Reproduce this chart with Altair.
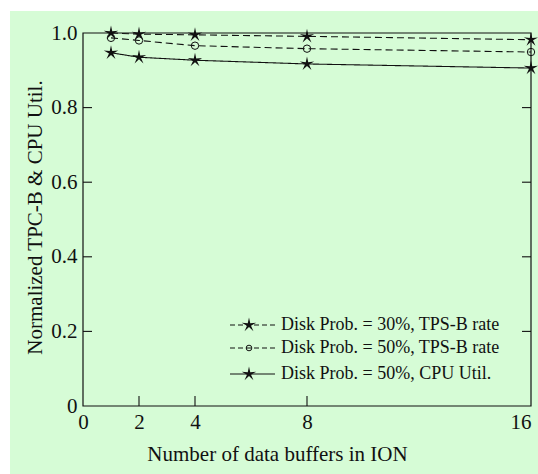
import altair as alt
import pandas as pd

# Measured series: normalized TPC-B rate and CPU utilisation vs. number of data buffers
buffers = [1, 2, 4, 8, 16]
tps_30 = [1.000, 0.997, 0.995, 0.991, 0.982]
tps_50 = [0.987, 0.980, 0.966, 0.958, 0.949]
cpu_50 = [0.947, 0.935, 0.927, 0.917, 0.906]
series_names = [
    "Disk Prob. = 30%, TPS-B rate",
    "Disk Prob. = 50%, TPS-B rate",
    "Disk Prob. = 50%, CPU Util.",
]

x_labels = [0, 2, 4, 8, 16]
x_inner_ticks = [2, 4, 8]
y_labels = [0, 0.2, 0.4, 0.6, 0.8, 1.0]
y_inner_ticks = [0.2, 0.4, 0.6, 0.8]

W, H = 448, 373
FONT = "Liberation Serif"
BG = "#d6fcd6"
INK = "#111111"
STAR_SIZE = 230

# thin five-pointed star symbol in the [-1, 1] box
STAR = ("M0,-1L0.165,-0.227L0.951,-0.309L0.267,0.087L0.588,0.809L0,0.28"
        "L-0.588,0.809L-0.267,0.087L-0.951,-0.309L-0.165,-0.227Z")

rows = []
for name, vals in zip(series_names, [tps_30, tps_50, cpu_50]):
    for b, v in zip(buffers, vals):
        rows.append({"series": name, "buffers": b, "value": v})
df = pd.DataFrame(rows)

x_scale = alt.Scale(domain=[0, 16], nice=False, zero=False)
y_scale = alt.Scale(domain=[0, 1], nice=False)

x_axis = alt.Axis(
    values=x_labels, title="Number of data buffers in ION", ticks=False,
    domain=False, grid=False, labelFont=FONT, labelFontSize=21,
    labelColor=INK, labelPadding=5, labelFlush=False,
    labelAlign=alt.expr("datum.value == 16 ? 'right' : 'center'"),
    titleFont=FONT, titleFontSize=21, titleFontWeight="normal",
    titleColor=INK, titleX=194, titleY=54, titleAlign="center",
    titleBaseline="alphabetic", zindex=1,
)
y_axis = alt.Axis(
    values=y_labels,
    labelExpr="datum.value == 0 ? '0' : format(datum.value, '.1f')",
    title="Normalized TPC-B & CPU Util.", ticks=False, domain=False,
    grid=False, labelFont=FONT, labelFontSize=21, labelColor=INK,
    labelPadding=6, labelFlush=False, titleFont=FONT, titleFontSize=21,
    titleFontWeight="normal", titleColor=INK, titleX=-48, titleY=184,
    titleAngle=270, titleAlign="center", titleBaseline="middle", zindex=1,
)

one = pd.DataFrame({"k": [0]})

# green page background
bg = alt.Chart(one).mark_rect(color=BG).encode(
    x=alt.value(-73), x2=alt.value(W + 7),
    y=alt.value(-22), y2=alt.value(H + 68),
)

base = alt.Chart(df)
lines = base.mark_line(color=INK, strokeWidth=1.1).encode(
    x=alt.X("buffers:Q", scale=x_scale, axis=x_axis),
    y=alt.Y("value:Q", scale=y_scale, axis=y_axis),
    detail="series:N",
    strokeDash=alt.StrokeDash(
        "series:N",
        scale=alt.Scale(domain=series_names, range=[[7, 4], [7, 4], [1, 0]]),
        legend=None,
    ),
)
stars = base.transform_filter(
    alt.datum.series != series_names[1]
).mark_point(shape=STAR, filled=True, size=STAR_SIZE, color=INK,
             opacity=1).encode(
    x=alt.X("buffers:Q", scale=x_scale, axis=x_axis),
    y=alt.Y("value:Q", scale=y_scale, axis=y_axis),
)
circles = base.transform_filter(
    alt.datum.series == series_names[1]
).mark_point(shape="circle", filled=False, size=55, color=INK,
             strokeWidth=1, opacity=1).encode(
    x=alt.X("buffers:Q", scale=x_scale, axis=x_axis),
    y=alt.Y("value:Q", scale=y_scale, axis=y_axis),
)

# inward tick marks on bottom, left and right edges
xt = alt.Chart(pd.DataFrame({"t": x_inner_ticks})).mark_rule(
    color=INK, strokeWidth=1.1
).encode(
    x=alt.X("t:Q", scale=x_scale, axis=x_axis),
    y=alt.value(H), y2=alt.value(H - 10),
)
ydf = pd.DataFrame({"t": y_inner_ticks})
ylt = alt.Chart(ydf).mark_rule(color=INK, strokeWidth=1.1).encode(
    y=alt.Y("t:Q", scale=y_scale, axis=y_axis),
    x=alt.value(0), x2=alt.value(9),
)
yrt = alt.Chart(ydf).mark_rule(color=INK, strokeWidth=1.1).encode(
    y=alt.Y("t:Q", scale=y_scale, axis=y_axis),
    x=alt.value(W - 9), x2=alt.value(W),
)

frame = alt.Chart(one).mark_rect(
    fillOpacity=0, stroke=INK, strokeWidth=1.2
).encode(
    x=alt.value(0), x2=alt.value(W), y=alt.value(0), y2=alt.value(H),
)

# hand-built legend
legend_layers = []
legend_y = [292, 315, 341]
for i, name in enumerate(series_names):
    c = alt.Chart(pd.DataFrame({"label": [name]}))
    ly = legend_y[i]
    legend_layers.append(
        c.mark_rule(color=INK, strokeWidth=1.1,
                    strokeDash=[5, 3] if i < 2 else [1, 0]).encode(
            x=alt.value(147), x2=alt.value(192), y=alt.value(ly))
    )
    if i == 1:
        sym = c.mark_point(shape="circle", filled=False, size=32, color=INK,
                           strokeWidth=1, opacity=1)
    else:
        sym = c.mark_point(shape=STAR, filled=True, size=STAR_SIZE,
                           color=INK, opacity=1)
    legend_layers.append(sym.encode(x=alt.value(166), y=alt.value(ly)))
    legend_layers.append(
        c.mark_text(align="left", baseline="middle", font=FONT, fontSize=18,
                    color=INK).encode(
            x=alt.value(198), y=alt.value(ly), text="label:N")
    )

chart = alt.layer(
    bg, lines, stars, circles, xt, ylt, yrt, frame, *legend_layers
).properties(
    width=W, height=H,
    autosize=alt.AutoSizeParams(type="none"),
    padding={"left": 83, "top": 33, "right": 7, "bottom": 68},
).configure_view(strokeWidth=0).configure(background="white")

chart.save("out.html", embed_options={"renderer": "svg", "actions": False})
